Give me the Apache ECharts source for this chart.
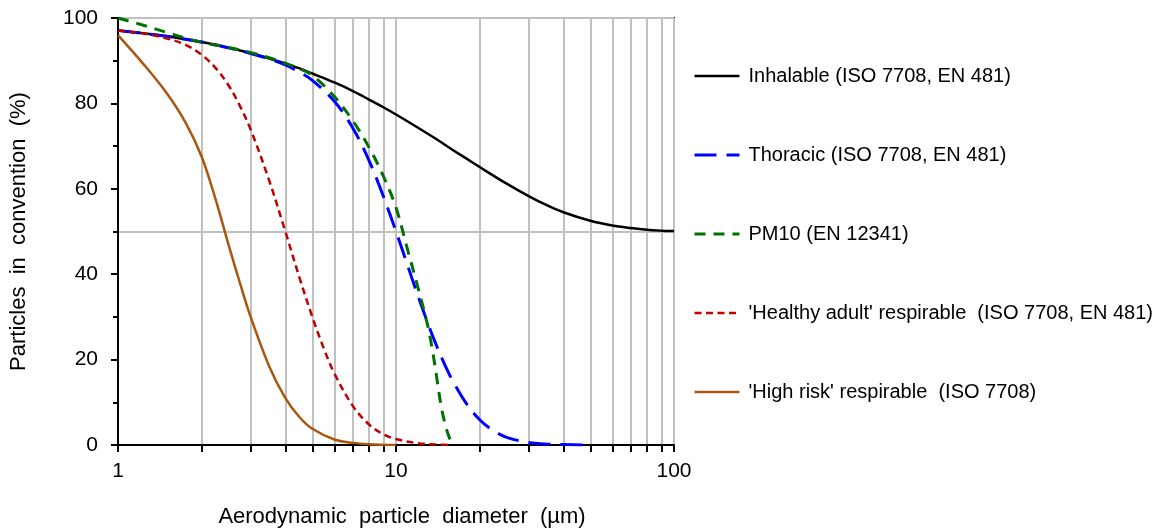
<!DOCTYPE html>
<html><head><meta charset="utf-8">
<script src="https://cdn.jsdelivr.net/npm/echarts@6/dist/echarts.min.js"></script>
<style>html,body{margin:0;padding:0;background:#fff}#c{width:1161px;height:531px}</style>
</head><body><div id="c"></div>
<script>
// ---- data ----
const seriesNames = [
  "Inhalable (ISO 7708, EN 481)",
  "Thoracic (ISO 7708, EN 481)",
  "PM10 (EN 12341)",
  "'Healthy adult' respirable  (ISO 7708, EN 481)",
  "'High risk' respirable  (ISO 7708)"
];
const inhalableD = [1,1.25,1.5,1.75,2,2.25,2.5,2.75,3,3.5,4,4.5,5,6,7,8,9,10,12,14,16,18,20,25,30,35,40,50,60,70,80,90,100];
const inhalableV = [97.1,96.4,95.7,95.0,94.4,93.7,93.0,92.4,91.8,90.5,89.3,88.2,87.0,84.9,82.9,80.9,79.1,77.4,74.3,71.6,69.1,67.0,65.1,61.2,58.3,56.1,54.5,52.5,51.4,50.8,50.4,50.2,50.1];

const thoracicD = [1,1.5,2,2.5,3,3.5,4,4.5,5,6,7,8,9,10,11,12,13,14,15,16,18,20,22,25,30,35,40,50];
const thoracicV = [97.1,95.7,94.4,93.0,91.7,90.4,89.0,87.3,85.4,80.5,74.2,66.6,58.3,50.0,42.1,34.9,28.6,23.2,18.7,15.0,9.5,5.9,3.7,1.8,0.6,0.2,0.1,0.0];

const pm10D = [1,1.25,1.5,1.75,2,2.5,3,3.5,4,4.5,5,6,7,8,9,10,11,12,13,13.5,14,14.5,15,15.5,16];
const pm10V = [100,98.2,96.6,95.3,94.3,93.1,91.9,90.7,89.4,88.1,86.6,81.6,75.9,69.7,63.0,55.6,45.8,36.8,28.0,22.5,16.0,9.5,5.0,2.0,0];

const healthyD = [1,1.25,1.5,1.75,2,2.25,2.5,2.75,3,3.5,4,4.5,5,5.5,6,7,8,9,10,12,14,16];
const healthyV = [97.1,96.3,95.2,93.7,91.4,88.2,84.2,79.3,73.9,61.9,50.0,39.1,30.0,22.6,16.8,9.1,4.8,2.5,1.4,0.4,0.1,0.0];

const highRiskD = [1,1.25,1.5,1.75,2,2.25,2.5,2.75,3,3.5,4,4.5,5,6,7,8,10];
const highRiskV = [96.0,88.8,82.3,75.5,67.5,57.3,46.8,37.8,30.0,18.4,11.0,6.5,3.8,1.3,0.5,0.2,0.0];

const xGridValues = [1,2,3,4,5,6,7,8,9,10,20,30,40,50,60,70,80,90,100];
const xTickLabels = [1,10,100];
const xTitle = "Aerodynamic  particle  diameter  (µm)";
const yTitle = "Particles  in  convention  (%)";

const colors = ['#000000','#0000FF','#007000','#C00000','#A9570F'];
const dashes = ['solid',[22,10],[11,8],[7,4.5],'solid'];
const widths = [2.5,3,3,2.5,2.5];

function pairs(xs, ys){ return xs.map((x,i)=>[x, ys[i]]); }
const allD = [inhalableD, thoracicD, pm10D, healthyD, highRiskD];
const allV = [inhalableV, thoracicV, pm10V, healthyV, highRiskV];

const FONT = 'Liberation Sans, Arial, sans-serif';
const chart = echarts.init(document.getElementById('c'), null, {renderer:'canvas'});
chart.setOption({
  animation: false,
  backgroundColor: '#fff',
  grid: {left:118, right:487, top:18, bottom:86, show:true, borderColor:'#000', borderWidth:2,
         backgroundColor:'transparent', containLabel:false, outerBoundsMode:'none'},
  legend: {
    orient:'vertical', left:693, top:64, padding:0, itemWidth:45, itemHeight:2, itemGap:55,
    itemStyle:{opacity:0},
    lineStyle:{width:'inherit', type:'inherit'},
    textStyle:{fontFamily:FONT, fontSize:20, color:'#000', lineHeight:24, padding:[0,0,0,4]},
    data: seriesNames
  },
  xAxis: {
    type:'log', logBase:10, min:1, max:100,
    name: xTitle, nameLocation:'middle', nameGap:61,
    nameTextStyle:{fontFamily:FONT, fontSize:22, color:'#000', padding:[0,0,0,12]},
    axisLine:{show:true, onZero:false, lineStyle:{color:'#000', width:2}},
    axisTick:{show:true, inside:false, length:7, customValues:xGridValues, lineStyle:{color:'#000', width:2}},
    axisLabel:{show:true, customValues:xTickLabels, margin:16, fontFamily:FONT, fontSize:21, color:'#000'},
    splitLine:{show:true, lineStyle:{color:'#C0C0C0', width:2}},
    minorTick:{show:false}, minorSplitLine:{show:false}
  },
  yAxis: [{
    type:'value', min:0, max:100, interval:20,
    name: yTitle, nameLocation:'middle', nameGap:88,
    nameTextStyle:{fontFamily:FONT, fontSize:22, color:'#000'},
    axisLine:{show:true, lineStyle:{color:'#000', width:2}},
    axisTick:{show:true, length:7, lineStyle:{color:'#000', width:2}},
    minorTick:{show:true, splitNumber:2, length:5, lineStyle:{color:'#000', width:2}},
    axisLabel:{margin:20, fontFamily:FONT, fontSize:21, color:'#000'},
    splitLine:{show:false}
  },{
    type:'value', min:0, max:100, interval:50, position:'right',
    axisLine:{show:false}, axisTick:{show:false}, axisLabel:{show:false},
    splitLine:{show:true, lineStyle:{color:'#C0C0C0', width:2}}
  }],
  series: seriesNames.map((n,i)=>({
    name:n, type:'line', data: pairs(allD[i], allV[i]),
    showSymbol:false, symbol:'none', smooth:0.35, z: 2+i,
    lineStyle:{color:colors[i], width:widths[i], type:dashes[i], cap:'butt'},
    itemStyle:{color:colors[i]}
  }))
});
</script></body></html>
